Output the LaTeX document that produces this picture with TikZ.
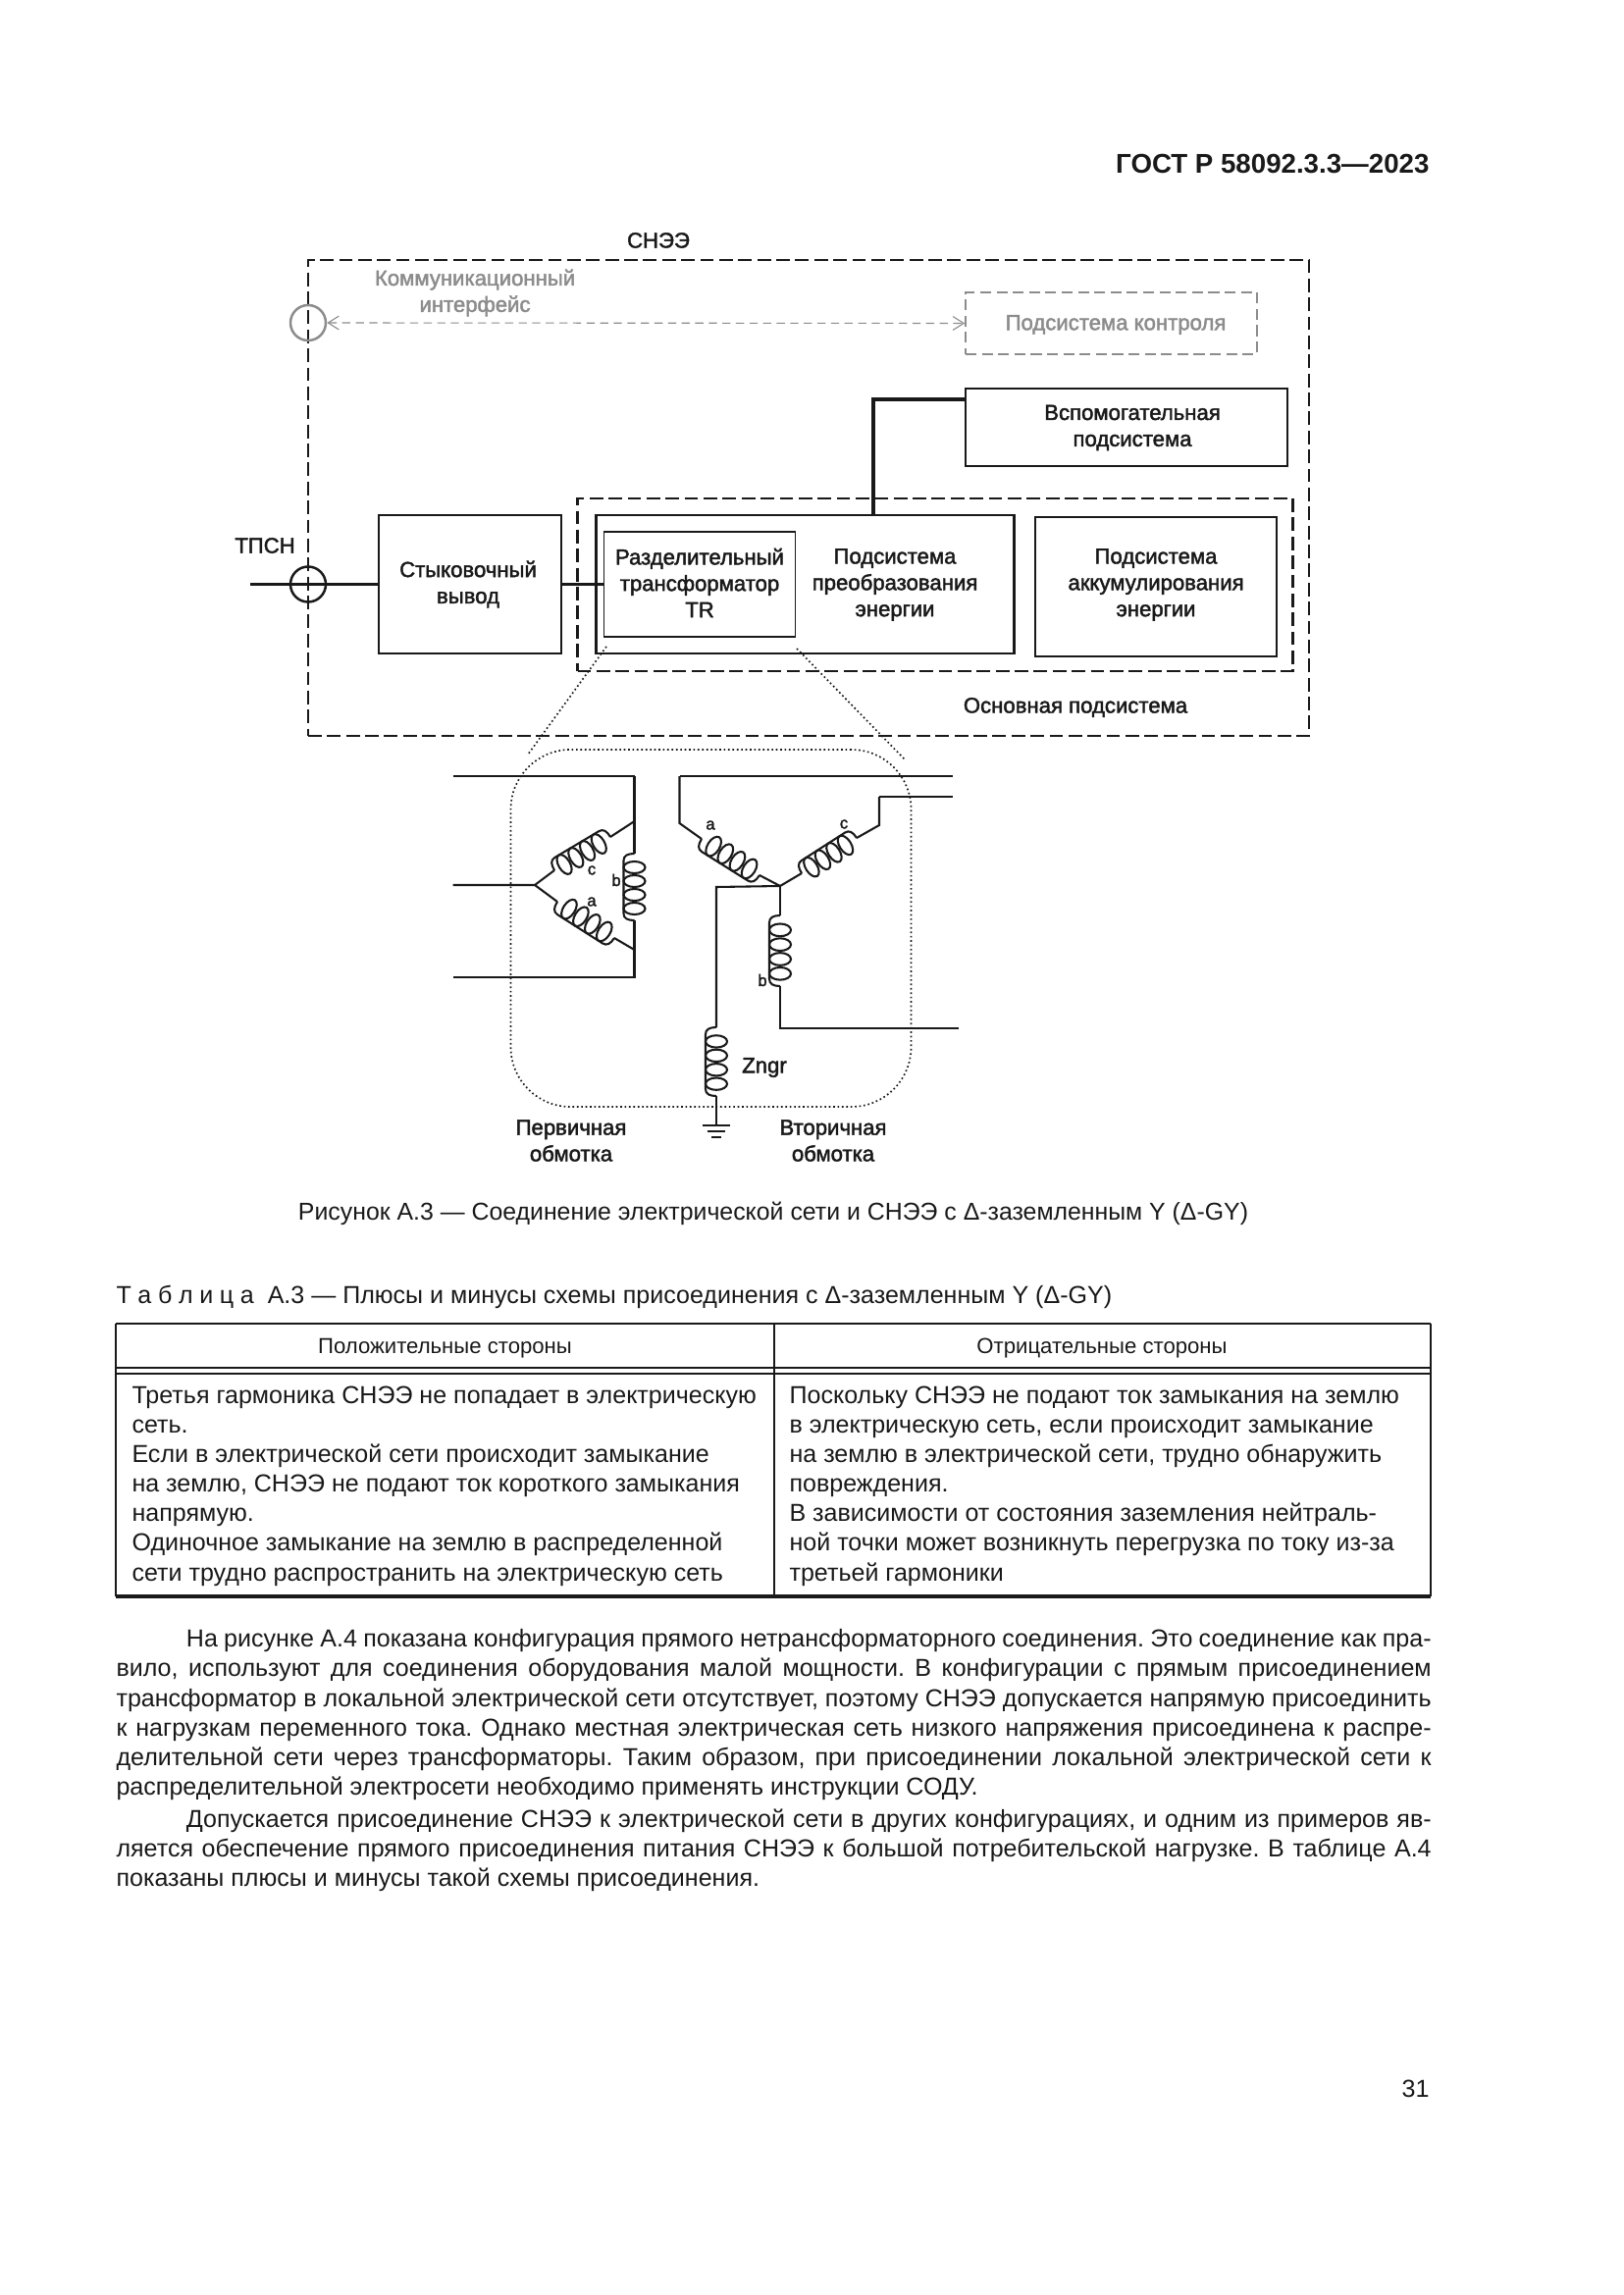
\documentclass[tikz,border=0pt]{standalone}
\usepackage{fontspec}
\setmainfont{Liberation Sans}
\newfontfamily\schemefont[FakeBold=2]{Liberation Sans}
\usetikzlibrary{arrows.meta, positioning, calc}
\def\px{0.36135pt}
\tikzset{
  schemetext/.style={font=\schemefont\fontsize{8}{9.7}\selectfont, align=center, inner sep=0pt, text=black!90},
  labeltext/.style={schemetext, font=\schemefont\fontsize{6}{7}\selectfont},
  pagetext/.style={font=\frenchspacing\fontsize{9.05}{10.9}\selectfont, inner sep=0pt, text=black!90},
  blockbox/.style={rectangle, draw=black!90, line width=0.85pt, inner sep=0pt, schemetext},
  innerbox/.style={blockbox, line width=0.7pt},
  groupbox/.style={rectangle, draw=black!90, line width=0.75pt, dash pattern=on 5pt off 2pt, inner sep=0pt},
  greybox/.style={rectangle, draw=black!45, line width=0.6pt, dash pattern=on 4pt off 2pt, inner sep=0pt, schemetext, text=black!45},
  portcirc/.style={circle, draw=black!90, line width=0.9pt, minimum size=36*\px, inner sep=0pt},
  wire/.style={draw=black!90, line width=0.75pt},
  buswire/.style={draw=black!90, line width=1.15pt},
  phaseline/.style={draw=black!90, line width=0.9pt},
  comlink/.style={draw=black!45, line width=0.4pt, densely dashed, {Straight Barb[length=4pt,width=5pt]}-{Straight Barb[length=4pt,width=5pt]}},
  zoomline/.style={draw=black!90, line width=0.6pt, densely dotted},
  tablerule/.style={draw=black!90, line width=0.5pt},
  pics/coilpic/.style={code={
    \draw[wire] (0,0) .. controls (0,7) and (2,11) .. (7,11) -- (61,11) .. controls (66,11) and (68,7) .. (68,0);
    \foreach \s in {14,28,42,56} {\draw[wire] (\s,0) ellipse [x radius=6, y radius=11];}
  }}
}
\newcommand{\coilbetween}[2]{
  \path let \p1=($(#2)-(#1)$), \n1={atan2(\y1,\x1)}, \n2={veclen(\x1,\y1)} in
    (#1) pic[rotate=\n1, xscale=\n2/24.57] {coilpic};
}
\begin{document}
\begin{tikzpicture}[x=0.36135pt, y=-0.36135pt]
    \useasboundingbox (0,0) rectangle (1654,2339);
    \node[pagetext, font=\bfseries\fontsize{10}{13}\selectfont, anchor=east] (gost) at (1457,167) {ГОСТ Р 58092.3.3—2023};

    % outer system
    \node[groupbox, minimum width=1020*\px, minimum height=485*\px] (sne) at (824,507.5) {};
    \node[schemetext] (snelabel) at (671,245) {СНЭЭ};
    \node[schemetext, text=black!45] (comlabel) at (484,298.5) {Коммуникационный\\интерфейс};
    \node[greybox, minimum width=297*\px, minimum height=63*\px] (control) at (1132.5,329.5) {};
    \node[schemetext, text=black!45] (controltext) at (1137,331) {Подсистема контроля};
    \node[portcirc, draw=black!45] (comport) at (314,329) {};
    \draw[comlink] (comport) -- (control.west);

    \node[blockbox, line width=1pt, minimum width=328*\px, minimum height=79*\px] (aux) at (1148,435.5) {};
    \node[schemetext] (auxtext) at (1154,436) {Вспомогательная\\подсистема};

    % main subsystem
    \node[groupbox, minimum width=729*\px, minimum height=176*\px] (mainsub) at (953,596) {};
    \node[schemetext] (mainlabel) at (1096,721) {Основная подсистема};
    \node[blockbox, minimum width=426*\px, minimum height=141*\px] (conv) at (820.5,595.5) {};
    \node[innerbox, minimum width=195*\px, minimum height=107*\px] (tr) at (713,595.5) {};
    \node[schemetext] (trtext) at (713,594) {Разделительный\\трансформатор\\TR};
    \node[schemetext] (convtext) at (912,596) {Подсистема\\преобразования\\энергии};
    \node[blockbox, minimum width=246*\px, minimum height=142*\px] (store) at (1178,598) {};
    \node[schemetext] (storetext) at (1178,596) {Подсистема\\аккумулирования\\энергии};
    \node[blockbox, minimum width=186*\px, minimum height=141*\px] (dock) at (479,595.5) {};
    \node[schemetext] (docktext) at (477,595.5) {Стыковочный\\вывод};

    \node[schemetext] (tpsnlabel) at (270,556) {ТПСН};
    \node[portcirc] (tpsn) at (314,595.5) {};
    \coordinate (gridend) at (255,595.5);
    \coordinate (auxtap) at (890,525);
    \coordinate (auxjoin) at (984,407);
    \draw[buswire] (gridend) -- (dock.west);
    \draw[buswire] (dock.east) -- (tr.west);
    \draw[buswire] (auxtap) |- (auxjoin);

    % zoom lines
    \coordinate (zoomLa) at (618,659);
    \coordinate (zoomLb) at (538,769);
    \coordinate (zoomRa) at (812,661);
    \coordinate (zoomRb) at (922,774);
    \draw[zoomline] (zoomLa) -- (zoomLb);
    \draw[zoomline] (zoomRa) -- (zoomRb);
    \node[rectangle, rounded corners=22pt, draw=black!90, line width=0.6pt, densely dotted, inner sep=0pt, minimum width=408*\px, minimum height=364*\px] (winding) at (724.5,946) {};

    % primary
    \coordinate (pT0) at (461.5,791);
    \coordinate (pT1) at (646.5,791);
    \coordinate (pM0) at (461.5,902);
    \coordinate (pM1) at (545,902);
    \coordinate (pB0) at (461.5,996);
    \coordinate (pB1) at (646.5,996);
    \coordinate (pU) at (646.5,837);
    \coordinate (pL) at (646.5,968);
    \coordinate (pb1) at (646.5,870);
    \coordinate (pb2) at (646.5,938);
    \coordinate (pc1) at (565,887);
    \coordinate (pc2) at (622,853);
    \coordinate (pa1) at (568,919);
    \coordinate (pa2) at (626,956);
    \draw[phaseline] (pT0) -- (pT1);
    \draw[wire] (pT1) -- (pb1);
    \coilbetween{pb1}{pb2}
    \draw[wire] (pb2) -- (pB1) -- (pB0);
    \draw[wire] (pM0) -- (pM1) -- (pc1);
    \coilbetween{pc2}{pc1}
    \draw[wire] (pc2) -- (pU);
    \draw[wire] (pM1) -- (pa1);
    \coilbetween{pa1}{pa2}
    \draw[wire] (pa2) -- (pL);
    \node[labeltext] (plabela) at (603,919) {a};
    \node[labeltext] (plabelc) at (603,887) {c};
    \node[labeltext] (plabelb) at (628,897) {b};

    % secondary
    \coordinate (sN) at (795,903);
    \coordinate (sT0) at (971,791);
    \coordinate (sT1) at (692.5,791);
    \coordinate (sA) at (692.5,839);
    \coordinate (sa1) at (715,855);
    \coordinate (sa2) at (774,892);
    \coordinate (sC0) at (971,812);
    \coordinate (sC1) at (896,812);
    \coordinate (sC) at (896,841);
    \coordinate (sc1) at (873,854);
    \coordinate (sc2) at (817,890);
    \coordinate (sb1) at (795,933);
    \coordinate (sb2) at (795,1005);
    \coordinate (sB1) at (795,1048);
    \coordinate (sB0) at (977,1048);
    \draw[phaseline] (sT0) -- (sT1);
    \draw[wire] (sT1) -- (sA) -- (sa1);
    \coilbetween{sa1}{sa2}
    \draw[wire] (sa2) -- (sN);
    \draw[phaseline] (sC0) -- (sC1);
    \draw[wire] (sC1) -- (sC) -- (sc1);
    \coilbetween{sc1}{sc2}
    \draw[wire] (sc2) -- (sN);
    \draw[wire] (sN) -- (sb1);
    \coilbetween{sb1}{sb2}
    \draw[wire] (sb2) -- (sB1) -- (sB0);
    \node[labeltext] (slabela) at (724,841) {a};
    \node[labeltext] (slabelc) at (860,840) {c};
    \node[labeltext] (slabelb) at (777,999) {b};

    % grounding
    \coordinate (gA) at (730,904);
    \coordinate (gz1) at (730,1047);
    \coordinate (gz2) at (730,1117);
    \coordinate (gE) at (730,1147);
    \draw[wire] (sN) -- (gA) -- (gz1);
    \coilbetween{gz1}{gz2}
    \draw[wire] (gz2) -- (gE);
    \draw[wire] ($(gE)+(-14,0)$) -- ($(gE)+(14,0)$);
    \draw[wire] ($(gE)+(-9,6)$) -- ($(gE)+(9,6)$);
    \draw[wire] ($(gE)+(-5,12)$) -- ($(gE)+(5,12)$);
    \node[schemetext] (zngr) at (779,1088) {Zngr};
    \node[schemetext] (primtext) at (582,1162.5) {Первичная\\обмотка};
    \node[schemetext] (sectext) at (849,1162.5) {Вторичная\\обмотка};

    % page text
    \node[pagetext, font=\fontsize{8.98}{10.9}\selectfont] (caption) at (788,1237) {Рисунок А.3 — Соединение электрической сети и СНЭЭ с Δ-заземленным Y (Δ-GY)};
    \node[pagetext, anchor=west] (tabletitle) at (118,1322) {Т\kern2.4pt а\kern2.4pt б\kern2.4pt л\kern2.4pt и\kern2.4pt ц\kern2.4pt а\ \ А.3 — Плюсы и минусы схемы присоединения с Δ-заземленным Y (Δ-GY)};
    \draw[tablerule, line width=0.8pt] (118,1349) -- (1458,1349);
    \draw[tablerule] (118,1394) -- (1458,1394);
    \draw[tablerule] (118,1400) -- (1458,1400);
    \draw[tablerule, line width=1.1pt] (118,1627) -- (1458,1627);
    \draw[tablerule] (118,1349) -- (118,1627);
    \draw[tablerule] (789,1349) -- (789,1627);
    \draw[tablerule] (1458,1349) -- (1458,1627);
    \node[pagetext, font=\fontsize{8}{10.9}\selectfont] (headL) at (453.5,1374) {Положительные стороны};
    \node[pagetext, font=\fontsize{8}{10.9}\selectfont] (headR) at (1123,1374) {Отрицательные стороны};
    \node[pagetext, anchor=north west, align=left] (cellL) at (134,1412) {Третья гармоника СНЭЭ не попадает в электрическую\\сеть.\\Если в электрической сети происходит замыкание\\на землю, СНЭЭ не подают ток короткого замыкания\\напрямую.\\Одиночное замыкание на землю в распределенной\\сети трудно распространить на электрическую сеть};
    \node[pagetext, anchor=north west, align=left] (cellR) at (804,1412) {Поскольку СНЭЭ не подают ток замыкания на землю\\в электрическую сеть, если происходит замыкание\\на землю в электрической сети, трудно обнаружить\\повреждения.\\В зависимости от состояния заземления нейтраль-\\ной точки может возникнуть перегрузка по току из-за\\третьей гармоники};
    \node[pagetext, anchor=north west, text width=1340*\px, align=justify] (para1) at (118,1660) {\hspace*{25.8pt}На рисунке А.4 показана конфигурация прямого нетрансформаторного соединения. Это соединение как пра-\linebreak вило, используют для соединения оборудования малой мощности. В конфигурации с прямым присоединением\linebreak трансформатор в локальной электрической сети отсутствует, поэтому СНЭЭ допускается напрямую присоединить\linebreak к нагрузкам переменного тока. Однако местная электрическая сеть низкого напряжения присоединена к распре-\linebreak делительной сети через трансформаторы. Таким образом, при присоединении локальной электрической сети к\linebreak распределительной электросети необходимо применять инструкции СОДУ.};
    \node[pagetext, anchor=north west, text width=1340*\px, align=justify] (para2) at (118,1843) {\hspace*{25.8pt}Допускается присоединение СНЭЭ к электрической сети в других конфигурациях, и одним из примеров яв-\linebreak ляется обеспечение прямого присоединения питания СНЭЭ к большой потребительской нагрузке. В таблице А.4\linebreak показаны плюсы и минусы такой схемы присоединения.};
    \node[pagetext, anchor=east] (pagenum) at (1457,2129) {31};
\end{tikzpicture}
\end{document}
